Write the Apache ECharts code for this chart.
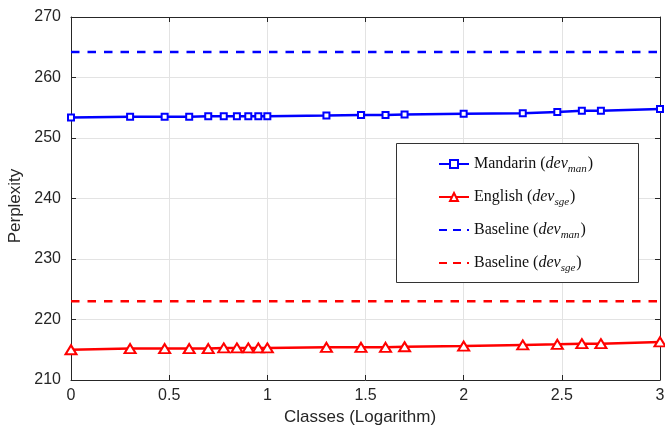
<!DOCTYPE html>
<html>
<head>
<meta charset="utf-8">
<script src="https://cdn.jsdelivr.net/npm/echarts@6/dist/echarts.min.js"></script>
<style>
  html, body { margin: 0; padding: 0; background: #fff; }
  #chart { width: 665px; height: 427px; }
</style>
</head>
<body>
<div id="chart"></div>
<script>
// log10 of class counts (1..10, 20..50, 100..500, 1000)
var classesLog = [0, 0.301, 0.477, 0.602, 0.699, 0.778, 0.845, 0.903, 0.954, 1,
  1.301, 1.477, 1.602, 1.699, 2, 2.301, 2.477, 2.602, 2.699, 3]
var mandarinPpl = [253.4, 253.5, 253.5, 253.5, 253.6, 253.6, 253.6, 253.6, 253.6, 253.6,
  253.7, 253.8, 253.8, 253.9, 254.0, 254.1, 254.3, 254.5, 254.5, 254.8]
var englishPpl = [215.0, 215.2, 215.2, 215.2, 215.2, 215.3, 215.3, 215.3, 215.3, 215.3,
  215.4, 215.4, 215.4, 215.5, 215.6, 215.8, 215.9, 216.0, 216.0, 216.3]
var baselineMan = 264.2
var baselineSge = 223.0
var xRange = [0, 3]

var blue = '#0000ff'
var red = '#ff0000'
var axisColor = '#262626'

function pairs(xs, ys) {
  return xs.map(function (x, i) { return [x, ys[i]] })
}

var chart = echarts.init(document.getElementById('chart'))
chart.setOption({
  animation: false,
  grid: { left: 71, right: 5, top: 17, bottom: 47, outerBoundsMode: 'none' },
  graphic: [{
    type: 'rect',
    left: 396, top: 143,
    shape: { width: 242, height: 139 },
    style: { fill: '#fff', stroke: '#333', lineWidth: 1 },
    z: 5
  }],
  legend: {
    orient: 'vertical',
    left: 433, top: 151,
    itemWidth: 30, itemHeight: 10, itemGap: 14,
    z: 6,
    data: [
      { name: 'man' },
      { name: 'sge' },
      { name: 'baseMan', itemStyle: { opacity: 0 }, lineStyle: { type: [8, 6] } },
      { name: 'baseSge', itemStyle: { opacity: 0 }, lineStyle: { type: [8, 6] } }
    ],
    formatter: function (name) {
      var label = { man: ['Mandarin', 'man'], sge: ['English', 'sge'], baseMan: ['Baseline', 'man'], baseSge: ['Baseline', 'sge'] }[name]
      return '{r|' + label[0] + ' (}{i|dev}{s|' + label[1] + '}{r|)}'
    },
    textStyle: {
      fontFamily: 'Liberation Serif',
      fontSize: 16,
      color: '#111',
      rich: {
        r: { fontFamily: 'Liberation Serif', fontSize: 16, color: '#111', lineHeight: 22 },
        i: { fontFamily: 'Liberation Serif', fontStyle: 'italic', fontSize: 16, color: '#111', lineHeight: 22 },
        s: { fontFamily: 'Liberation Serif', fontStyle: 'italic', fontSize: 11, color: '#111', lineHeight: 22, verticalAlign: 'bottom', padding: [6, 1, 0, 0] }
      }
    }
  },
  xAxis: [{
    type: 'value',
    min: 0, max: 3, interval: 0.5,
    name: 'Classes (Logarithm)',
    nameLocation: 'middle',
    nameGap: 28,
    nameTextStyle: { fontFamily: 'Liberation Sans', fontSize: 17, color: axisColor, padding: [0, 11, 0, 0] },
    axisLine: { show: true, onZero: false, lineStyle: { color: axisColor, width: 1 } },
    axisTick: { show: true, inside: true, length: 5, lineStyle: { color: axisColor } },
    axisLabel: { margin: 8, fontFamily: 'Liberation Sans', fontSize: 16, color: axisColor },
    splitLine: { show: true, lineStyle: { color: '#e3e3e3', width: 1 } }
  }, {
    type: 'value', position: 'top',
    min: 0, max: 3, interval: 0.5,
    axisLine: { show: true, onZero: false, lineStyle: { color: axisColor, width: 1 } },
    axisTick: { show: true, inside: true, length: 5, lineStyle: { color: axisColor } },
    axisLabel: { show: false },
    splitLine: { show: false }
  }],
  yAxis: [{
    type: 'value',
    min: 210, max: 270, interval: 10,
    name: 'Perplexity',
    nameLocation: 'middle',
    nameGap: 44,
    nameTextStyle: { fontFamily: 'Liberation Sans', fontSize: 17, color: axisColor, padding: [0, 15, 0, 0] },
    axisLine: { show: true, onZero: false, lineStyle: { color: axisColor, width: 1 } },
    axisTick: { show: true, inside: true, length: 5, lineStyle: { color: axisColor } },
    axisLabel: { margin: 10, fontFamily: 'Liberation Sans', fontSize: 16, color: axisColor },
    splitLine: { show: true, lineStyle: { color: '#e3e3e3', width: 1 } }
  }, {
    type: 'value', position: 'right',
    min: 210, max: 270, interval: 10,
    axisLine: { show: true, onZero: false, lineStyle: { color: axisColor, width: 1 } },
    axisTick: { show: true, inside: true, length: 5, lineStyle: { color: axisColor } },
    axisLabel: { show: false },
    splitLine: { show: false }
  }],
  series: [{
    name: 'man',
    type: 'line',
    data: pairs(classesLog, mandarinPpl),
    symbol: 'emptyRect',
    symbolSize: 6,
    color: blue,
    lineStyle: { color: blue, width: 2.5 },
    itemStyle: { color: blue, borderColor: blue, borderWidth: 2 },
    z: 3
  }, {
    name: 'sge',
    type: 'line',
    data: pairs(classesLog, englishPpl),
    symbol: 'emptyTriangle',
    symbolSize: [11, 9],
    color: red,
    lineStyle: { color: red, width: 2.5 },
    itemStyle: { color: red, borderColor: red, borderWidth: 2 },
    z: 3
  }, {
    name: 'baseMan',
    type: 'line',
    data: xRange.map(function (x) { return [x, baselineMan] }),
    symbol: 'none',
    color: blue,
    lineStyle: { color: blue, width: 2.5, type: [8.5, 8] },
    z: 2
  }, {
    name: 'baseSge',
    type: 'line',
    data: xRange.map(function (x) { return [x, baselineSge] }),
    symbol: 'none',
    color: red,
    lineStyle: { color: red, width: 2.5, type: [8.5, 8] },
    z: 2
  }]
})
</script>
</body>
</html>
